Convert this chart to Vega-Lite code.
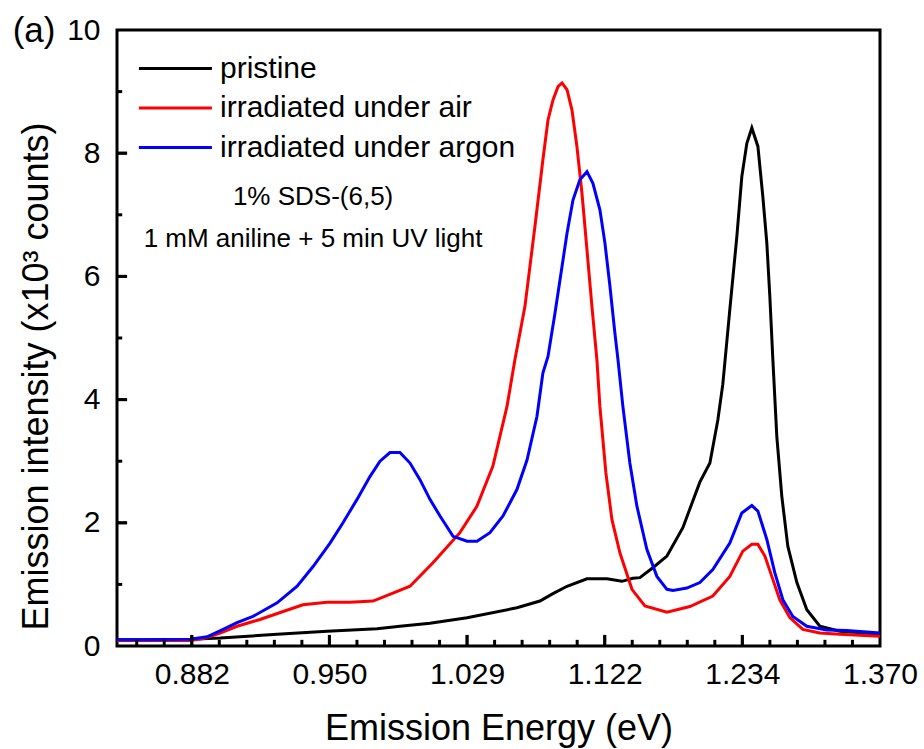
{
  "$schema": "https://vega.github.io/schema/vega-lite/v6.json",
  "width": 763,
  "height": 616,
  "autosize": {"type": "none"},
  "padding": {"left": 117, "top": 30, "right": 44, "bottom": 103},
  "background": "white",
  "config": {
    "font": "Liberation Sans",
    "view": {"stroke": "black", "strokeWidth": 3},
    "axis": {"domain": false, "ticks": false, "labelColor": "black", "titleColor": "black", "labelFont": "Liberation Sans", "titleFont": "Liberation Sans", "labelFontSize": 30, "titleFontSize": 36, "titleFontWeight": "normal", "grid": false, "labelOverlap": false}
  },
  "title": {"text": "(a)", "anchor": "start", "frame": "bounds", "fontSize": 35, "fontWeight": "normal", "font": "Liberation Sans", "color": "black", "baseline": "alphabetic", "offset": 0, "dx": -6, "dy": 62},
  "datasets": {
    "curves": [
      {"series": "pristine", "energy": 0.8496, "intensity": 0.10},
      {"series": "pristine", "energy": 0.8638, "intensity": 0.10},
      {"series": "pristine", "energy": 0.8817, "intensity": 0.11},
      {"series": "pristine", "energy": 0.8956, "intensity": 0.13},
      {"series": "pristine", "energy": 0.9232, "intensity": 0.19},
      {"series": "pristine", "energy": 0.9488, "intensity": 0.24},
      {"series": "pristine", "energy": 0.9759, "intensity": 0.28},
      {"series": "pristine", "energy": 0.9889, "intensity": 0.32},
      {"series": "pristine", "energy": 1.0064, "intensity": 0.37},
      {"series": "pristine", "energy": 1.0289, "intensity": 0.46},
      {"series": "pristine", "energy": 1.0608, "intensity": 0.62},
      {"series": "pristine", "energy": 1.0762, "intensity": 0.73},
      {"series": "pristine", "energy": 1.0851, "intensity": 0.85},
      {"series": "pristine", "energy": 1.0949, "intensity": 0.97},
      {"series": "pristine", "energy": 1.1091, "intensity": 1.09},
      {"series": "pristine", "energy": 1.1237, "intensity": 1.09},
      {"series": "pristine", "energy": 1.1349, "intensity": 1.05},
      {"series": "pristine", "energy": 1.1432, "intensity": 1.10},
      {"series": "pristine", "energy": 1.1486, "intensity": 1.11},
      {"series": "pristine", "energy": 1.1587, "intensity": 1.27},
      {"series": "pristine", "energy": 1.1699, "intensity": 1.46},
      {"series": "pristine", "energy": 1.1828, "intensity": 1.92},
      {"series": "pristine", "energy": 1.1969, "intensity": 2.66},
      {"series": "pristine", "energy": 1.2054, "intensity": 2.97},
      {"series": "pristine", "energy": 1.2122, "intensity": 3.67},
      {"series": "pristine", "energy": 1.2165, "intensity": 4.25},
      {"series": "pristine", "energy": 1.2226, "intensity": 5.46},
      {"series": "pristine", "energy": 1.2288, "intensity": 6.65},
      {"series": "pristine", "energy": 1.2332, "intensity": 7.62},
      {"series": "pristine", "energy": 1.2377, "intensity": 8.16},
      {"series": "pristine", "energy": 1.2422, "intensity": 8.41},
      {"series": "pristine", "energy": 1.2477, "intensity": 8.11},
      {"series": "pristine", "energy": 1.2522, "intensity": 7.30},
      {"series": "pristine", "energy": 1.2559, "intensity": 6.54},
      {"series": "pristine", "energy": 1.2587, "intensity": 5.67},
      {"series": "pristine", "energy": 1.2615, "intensity": 4.65},
      {"series": "pristine", "energy": 1.2652, "intensity": 3.40},
      {"series": "pristine", "energy": 1.2699, "intensity": 2.43},
      {"series": "pristine", "energy": 1.2756, "intensity": 1.62},
      {"series": "pristine", "energy": 1.2843, "intensity": 1.03},
      {"series": "pristine", "energy": 1.2940, "intensity": 0.59},
      {"series": "pristine", "energy": 1.3069, "intensity": 0.32},
      {"series": "pristine", "energy": 1.3272, "intensity": 0.24},
      {"series": "pristine", "energy": 1.3450, "intensity": 0.22},
      {"series": "pristine", "energy": 1.3700, "intensity": 0.19},
      {"series": "irradiated under air", "energy": 0.8496, "intensity": 0.09},
      {"series": "irradiated under air", "energy": 0.8638, "intensity": 0.09},
      {"series": "irradiated under air", "energy": 0.8817, "intensity": 0.09},
      {"series": "irradiated under air", "energy": 0.8878, "intensity": 0.12},
      {"series": "irradiated under air", "energy": 0.8956, "intensity": 0.21},
      {"series": "irradiated under air", "energy": 0.9036, "intensity": 0.32},
      {"series": "irradiated under air", "energy": 0.9147, "intensity": 0.43},
      {"series": "irradiated under air", "energy": 0.9262, "intensity": 0.56},
      {"series": "irradiated under air", "energy": 0.9363, "intensity": 0.67},
      {"series": "irradiated under air", "energy": 0.9488, "intensity": 0.71},
      {"series": "irradiated under air", "energy": 0.9611, "intensity": 0.71},
      {"series": "irradiated under air", "energy": 0.9737, "intensity": 0.73},
      {"series": "irradiated under air", "energy": 0.9849, "intensity": 0.86},
      {"series": "irradiated under air", "energy": 0.9947, "intensity": 0.97},
      {"series": "irradiated under air", "energy": 1.0082, "intensity": 1.35},
      {"series": "irradiated under air", "energy": 1.0245, "intensity": 1.84},
      {"series": "irradiated under air", "energy": 1.0351, "intensity": 2.27},
      {"series": "irradiated under air", "energy": 1.0452, "intensity": 2.92},
      {"series": "irradiated under air", "energy": 1.0543, "intensity": 3.89},
      {"series": "irradiated under air", "energy": 1.0595, "intensity": 4.65},
      {"series": "irradiated under air", "energy": 1.0661, "intensity": 5.51},
      {"series": "irradiated under air", "energy": 1.0728, "intensity": 6.81},
      {"series": "irradiated under air", "energy": 1.0782, "intensity": 7.89},
      {"series": "irradiated under air", "energy": 1.0817, "intensity": 8.54},
      {"series": "irradiated under air", "energy": 1.0851, "intensity": 8.86},
      {"series": "irradiated under air", "energy": 1.0886, "intensity": 9.08},
      {"series": "irradiated under air", "energy": 1.0914, "intensity": 9.14},
      {"series": "irradiated under air", "energy": 1.0949, "intensity": 9.03},
      {"series": "irradiated under air", "energy": 1.0984, "intensity": 8.70},
      {"series": "irradiated under air", "energy": 1.1019, "intensity": 8.11},
      {"series": "irradiated under air", "energy": 1.1055, "intensity": 7.35},
      {"series": "irradiated under air", "energy": 1.1091, "intensity": 6.43},
      {"series": "irradiated under air", "energy": 1.1127, "intensity": 5.51},
      {"series": "irradiated under air", "energy": 1.1163, "intensity": 4.65},
      {"series": "irradiated under air", "energy": 1.1185, "intensity": 3.89},
      {"series": "irradiated under air", "energy": 1.1229, "intensity": 2.81},
      {"series": "irradiated under air", "energy": 1.1274, "intensity": 2.05},
      {"series": "irradiated under air", "energy": 1.1334, "intensity": 1.51},
      {"series": "irradiated under air", "energy": 1.1425, "intensity": 0.92},
      {"series": "irradiated under air", "energy": 1.1525, "intensity": 0.65},
      {"series": "irradiated under air", "energy": 1.1699, "intensity": 0.55},
      {"series": "irradiated under air", "energy": 1.1886, "intensity": 0.64},
      {"series": "irradiated under air", "energy": 1.2079, "intensity": 0.81},
      {"series": "irradiated under air", "energy": 1.2226, "intensity": 1.13},
      {"series": "irradiated under air", "energy": 1.2341, "intensity": 1.54},
      {"series": "irradiated under air", "energy": 1.2422, "intensity": 1.65},
      {"series": "irradiated under air", "energy": 1.2477, "intensity": 1.65},
      {"series": "irradiated under air", "energy": 1.2541, "intensity": 1.46},
      {"series": "irradiated under air", "energy": 1.2605, "intensity": 1.13},
      {"series": "irradiated under air", "energy": 1.2680, "intensity": 0.75},
      {"series": "irradiated under air", "energy": 1.2775, "intensity": 0.46},
      {"series": "irradiated under air", "energy": 1.2901, "intensity": 0.27},
      {"series": "irradiated under air", "energy": 1.3069, "intensity": 0.21},
      {"series": "irradiated under air", "energy": 1.3272, "intensity": 0.19},
      {"series": "irradiated under air", "energy": 1.3700, "intensity": 0.16},
      {"series": "irradiated under argon", "energy": 0.8496, "intensity": 0.10},
      {"series": "irradiated under argon", "energy": 0.8638, "intensity": 0.10},
      {"series": "irradiated under argon", "energy": 0.8817, "intensity": 0.11},
      {"series": "irradiated under argon", "energy": 0.8895, "intensity": 0.15},
      {"series": "irradiated under argon", "energy": 0.8970, "intensity": 0.27},
      {"series": "irradiated under argon", "energy": 0.9036, "intensity": 0.38},
      {"series": "irradiated under argon", "energy": 0.9113, "intensity": 0.48},
      {"series": "irradiated under argon", "energy": 0.9232, "intensity": 0.70},
      {"series": "irradiated under argon", "energy": 0.9333, "intensity": 0.97},
      {"series": "irradiated under argon", "energy": 0.9415, "intensity": 1.29},
      {"series": "irradiated under argon", "energy": 0.9504, "intensity": 1.67},
      {"series": "irradiated under argon", "energy": 0.9573, "intensity": 2.00},
      {"series": "irradiated under argon", "energy": 0.9649, "intensity": 2.38},
      {"series": "irradiated under argon", "energy": 0.9720, "intensity": 2.75},
      {"series": "irradiated under argon", "energy": 0.9776, "intensity": 3.00},
      {"series": "irradiated under argon", "energy": 0.9832, "intensity": 3.14},
      {"series": "irradiated under argon", "energy": 0.9889, "intensity": 3.14},
      {"series": "irradiated under argon", "energy": 0.9947, "intensity": 2.97},
      {"series": "irradiated under argon", "energy": 1.0005, "intensity": 2.70},
      {"series": "irradiated under argon", "energy": 1.0064, "intensity": 2.38},
      {"series": "irradiated under argon", "energy": 1.0124, "intensity": 2.11},
      {"series": "irradiated under argon", "energy": 1.0203, "intensity": 1.78},
      {"series": "irradiated under argon", "energy": 1.0289, "intensity": 1.70},
      {"series": "irradiated under argon", "energy": 1.0351, "intensity": 1.70},
      {"series": "irradiated under argon", "energy": 1.0433, "intensity": 1.84},
      {"series": "irradiated under argon", "energy": 1.0517, "intensity": 2.11},
      {"series": "irradiated under argon", "energy": 1.0608, "intensity": 2.54},
      {"series": "irradiated under argon", "energy": 1.0675, "intensity": 3.02},
      {"series": "irradiated under argon", "energy": 1.0742, "intensity": 3.73},
      {"series": "irradiated under argon", "energy": 1.0782, "intensity": 4.43},
      {"series": "irradiated under argon", "energy": 1.0817, "intensity": 4.70},
      {"series": "irradiated under argon", "energy": 1.0865, "intensity": 5.40},
      {"series": "irradiated under argon", "energy": 1.0914, "intensity": 6.16},
      {"series": "irradiated under argon", "energy": 1.0949, "intensity": 6.70},
      {"series": "irradiated under argon", "energy": 1.0991, "intensity": 7.24},
      {"series": "irradiated under argon", "energy": 1.1040, "intensity": 7.57},
      {"series": "irradiated under argon", "energy": 1.1091, "intensity": 7.70},
      {"series": "irradiated under argon", "energy": 1.1134, "intensity": 7.51},
      {"series": "irradiated under argon", "energy": 1.1185, "intensity": 7.08},
      {"series": "irradiated under argon", "energy": 1.1222, "intensity": 6.54},
      {"series": "irradiated under argon", "energy": 1.1259, "intensity": 5.84},
      {"series": "irradiated under argon", "energy": 1.1296, "intensity": 5.08},
      {"series": "irradiated under argon", "energy": 1.1319, "intensity": 4.65},
      {"series": "irradiated under argon", "energy": 1.1356, "intensity": 3.89},
      {"series": "irradiated under argon", "energy": 1.1409, "intensity": 2.97},
      {"series": "irradiated under argon", "energy": 1.1463, "intensity": 2.27},
      {"series": "irradiated under argon", "energy": 1.1540, "intensity": 1.57},
      {"series": "irradiated under argon", "energy": 1.1619, "intensity": 1.13},
      {"series": "irradiated under argon", "energy": 1.1699, "intensity": 0.92},
      {"series": "irradiated under argon", "energy": 1.1747, "intensity": 0.90},
      {"series": "irradiated under argon", "energy": 1.1861, "intensity": 0.94},
      {"series": "irradiated under argon", "energy": 1.1969, "intensity": 1.03},
      {"series": "irradiated under argon", "energy": 1.2079, "intensity": 1.24},
      {"series": "irradiated under argon", "energy": 1.2226, "intensity": 1.67},
      {"series": "irradiated under argon", "energy": 1.2332, "intensity": 2.16},
      {"series": "irradiated under argon", "energy": 1.2422, "intensity": 2.28},
      {"series": "irradiated under argon", "energy": 1.2477, "intensity": 2.19},
      {"series": "irradiated under argon", "energy": 1.2559, "intensity": 1.73},
      {"series": "irradiated under argon", "energy": 1.2633, "intensity": 1.19},
      {"series": "irradiated under argon", "energy": 1.2709, "intensity": 0.75},
      {"series": "irradiated under argon", "energy": 1.2804, "intensity": 0.48},
      {"series": "irradiated under argon", "energy": 1.2940, "intensity": 0.32},
      {"series": "irradiated under argon", "energy": 1.3139, "intensity": 0.26},
      {"series": "irradiated under argon", "energy": 1.3344, "intensity": 0.25},
      {"series": "irradiated under argon", "energy": 1.3700, "intensity": 0.21}
    ],
    "notes": [
      {"energy": 0.9415, "intensity": 7.16, "label": "1% SDS-(6,5)"},
      {"energy": 0.9415, "intensity": 6.485, "label": "1 mM aniline + 5 min UV light"}
    ],
    "xMajor": [
      {"energy": 0.88245}, {"energy": 0.95007}, {"energy": 1.02891}, {"energy": 1.12203}, {"energy": 1.23367}
    ],
    "xMinor": [
      {"energy": 0.85802}, {"energy": 0.87006}, {"energy": 0.89519}, {"energy": 0.90831}, {"energy": 0.92182}, {"energy": 0.93573},
      {"energy": 0.96486}, {"energy": 0.98011}, {"energy": 0.99586}, {"energy": 1.01212}, {"energy": 1.04628}, {"energy": 1.06424},
      {"energy": 1.08283}, {"energy": 1.10208}, {"energy": 1.14271}, {"energy": 1.16417}, {"energy": 1.18645}, {"energy": 1.20960},
      {"energy": 1.25872}, {"energy": 1.28481}, {"energy": 1.31200}, {"energy": 1.34037}
    ],
    "yMajor": [
      {"intensity": 2}, {"intensity": 4}, {"intensity": 6}, {"intensity": 8}
    ],
    "yMinor": [
      {"intensity": 1}, {"intensity": 3}, {"intensity": 5}, {"intensity": 7}, {"intensity": 9}
    ]
  },
  "layer": [
    {
      "data": {"name": "curves"},
      "mark": {"type": "line", "strokeWidth": 3, "clip": true},
      "encoding": {
        "x": {
          "field": "energy", "type": "quantitative",
          "scale": {"type": "pow", "exponent": -1, "domain": [0.8496, 1.37], "nice": false, "zero": false},
          "axis": {
            "orient": "bottom",
            "title": "Emission Energy (eV)",
            "values": [0.88245, 0.95007, 1.02891, 1.12203, 1.23367, 1.37000],
            "format": ".3f",
            "labelPadding": 13,
            "labelFlush": false,
            "titlePadding": 22
          }
        },
        "y": {
          "field": "intensity", "type": "quantitative",
          "scale": {"domain": [0, 10], "nice": false, "zero": true},
          "axis": {
            "orient": "left",
            "title": "Emission intensity (x10³ counts)",
            "values": [0, 2, 4, 6, 8, 10],
            "labelPadding": 17,
            "titleY": 346,
            "titlePadding": 11
          }
        },
        "color": {
          "field": "series", "type": "nominal",
          "scale": {"domain": ["pristine", "irradiated under air", "irradiated under argon"], "range": ["#000000", "#ff0000", "#0000ff"]},
          "legend": {"title": null, "orient": "none", "legendX": 20, "legendY": 22, "symbolType": "M-1,0L4,0", "symbolSize": 853, "symbolStrokeWidth": 3, "symbolFillColor": "transparent", "labelFontSize": 30, "labelFont": "Liberation Sans", "labelColor": "black", "labelOffset": 50, "rowPadding": 7.5, "labelLimit": 0, "padding": 0}
        }
      }
    },
    {
      "data": {"name": "notes"},
      "mark": {"type": "text", "fontSize": 26, "font": "Liberation Sans", "align": "center", "baseline": "alphabetic", "color": "black"},
      "encoding": {
        "x": {"field": "energy", "type": "quantitative", "axis": null},
        "y": {"field": "intensity", "type": "quantitative", "axis": null},
        "text": {"field": "label"}
      }
    },
    {
      "data": {"name": "xMajor"},
      "mark": {"type": "rule", "strokeWidth": 3, "color": "black"},
      "encoding": {
        "x": {"field": "energy", "type": "quantitative", "axis": null},
        "y": {"datum": 0, "type": "quantitative", "axis": null},
        "y2": {"datum": 0.18}
      }
    },
    {
      "data": {"name": "xMinor"},
      "mark": {"type": "rule", "strokeWidth": 3, "color": "black"},
      "encoding": {
        "x": {"field": "energy", "type": "quantitative", "axis": null},
        "y": {"datum": 0, "type": "quantitative", "axis": null},
        "y2": {"datum": 0.1}
      }
    },
    {
      "data": {"name": "yMajor"},
      "mark": {"type": "rule", "strokeWidth": 3, "color": "black"},
      "encoding": {
        "y": {"field": "intensity", "type": "quantitative", "axis": null},
        "x": {"datum": 0.8496, "type": "quantitative", "axis": null},
        "x2": {"datum": 0.8539}
      }
    },
    {
      "data": {"name": "yMinor"},
      "mark": {"type": "rule", "strokeWidth": 3, "color": "black"},
      "encoding": {
        "y": {"field": "intensity", "type": "quantitative", "axis": null},
        "x": {"datum": 0.8496, "type": "quantitative", "axis": null},
        "x2": {"datum": 0.8518}
      }
    },
    {
      "data": {"name": "xMajor"},
      "mark": {"type": "tick", "orient": "vertical", "size": 11, "thickness": 3, "color": "black", "yOffset": -5.5},
      "encoding": {
        "x": {"field": "energy", "type": "quantitative", "axis": null},
        "y": {"datum": 0, "type": "quantitative", "axis": null}
      }
    },
    {
      "data": {"name": "yMajor"},
      "mark": {"type": "tick", "orient": "horizontal", "size": 10, "thickness": 3, "color": "black", "xOffset": 5},
      "encoding": {
        "y": {"field": "intensity", "type": "quantitative", "axis": null},
        "x": {"datum": 0.8496, "type": "quantitative", "axis": null}
      }
    }
  ],
  "resolve": {"axis": {"x": "independent", "y": "independent"}}
}
